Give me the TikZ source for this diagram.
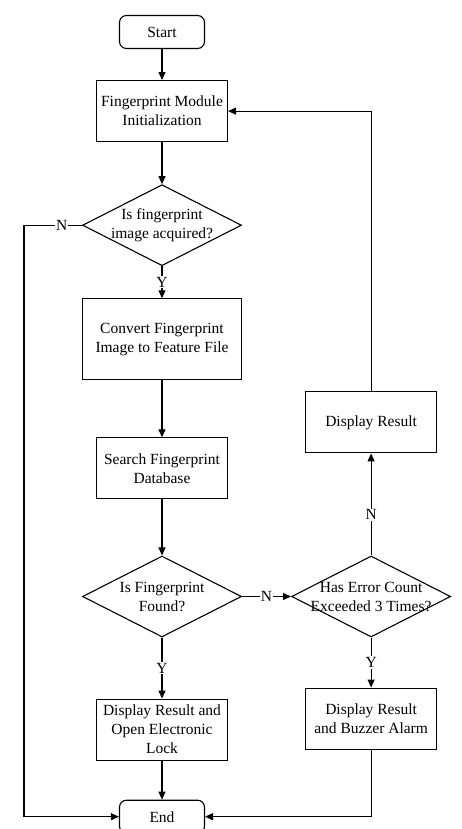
\documentclass[tikz,border=0pt]{standalone}
\usepackage{fontspec}
\setmainfont{Liberation Serif}
\usetikzlibrary{arrows.meta, positioning, shapes.geometric}
\tikzset{%
	term/.style={draw, rectangle, rounded corners=7pt, minimum width=85pt, minimum height=33pt, inner sep=0pt},
	proc/.style={draw, rectangle, minimum width=131pt, minimum height=61pt, align=center, inner sep=2pt},
	wideproc/.style={proc, minimum width=159pt, minimum height=81pt},
	decision/.style={draw, diamond, aspect=2, inner sep=0pt, minimum width=159pt, minimum height=81pt, align=center},
	flow/.style={-{Triangle[length=8pt, width=7pt]}},
	yn/.style={fill=white, inner sep=1pt}
}
\begin{document}
\begin{tikzpicture}[x=1pt, y=-1pt, line width=1.1pt, font=\fontsize{15.5}{19}\selectfont, node distance=31pt]
	\useasboundingbox (0,0) rectangle (461,829);
	\node[term] (start) at (162,32) {Start};
	\node[proc] (init) [below=of start] {Fingerprint Module\\Initialization};
	\node[decision, inner xsep=-5pt] (acq) [below=42pt of init] {Is fingerprint\\image acquired?};
	\node[wideproc] (conv) [below=32pt of acq] {Convert Fingerprint\\Image to Feature File};
	\node[proc] (search) [below=57pt of conv] {Search Fingerprint\\Database};
	\node[decision] (found) [below=56pt of search] {Is Fingerprint\\Found?};
	\node[proc] (unlock) [below=61pt of found] {Display Result and\\Open Electronic\\Lock};
	\node[term] (end) [below=39pt of unlock] {End};
	\node[decision, inner xsep=-14pt] (count) [right=49pt of found] {Has Error Count\\Exceeded 3 Times?};
	\node[proc] (show) [above=102pt of count] {Display Result};
	\node[proc] (alarm) [below=50pt of count] {Display Result\\and Buzzer Alarm};
	\coordinate (rail) at (24,0);

	\draw[flow] (start) -- (init);
	\draw[flow] (init) -- (acq);
	\draw[flow] (acq) -- node[yn]{Y} (conv);
	\draw[flow] (conv) -- (search);
	\draw[flow] (search) -- (found);
	\draw[flow] (found) -- node[yn]{Y} (unlock);
	\draw[flow] (unlock) -- (end);
	\draw[flow] (found) -- node[yn]{N} (count);
	\draw[flow] (count) -- node[yn, pos=0.4]{N} (show);
	\draw[flow] (count) -- node[yn]{Y} (alarm);
	\draw[flow] (show) |- (init);
	\draw[flow] (alarm) |- (end);
	\draw[flow] (acq.west) -- node[yn, pos=0.35]{N} (acq.west -| rail) |- (end);
\end{tikzpicture}
\end{document}
